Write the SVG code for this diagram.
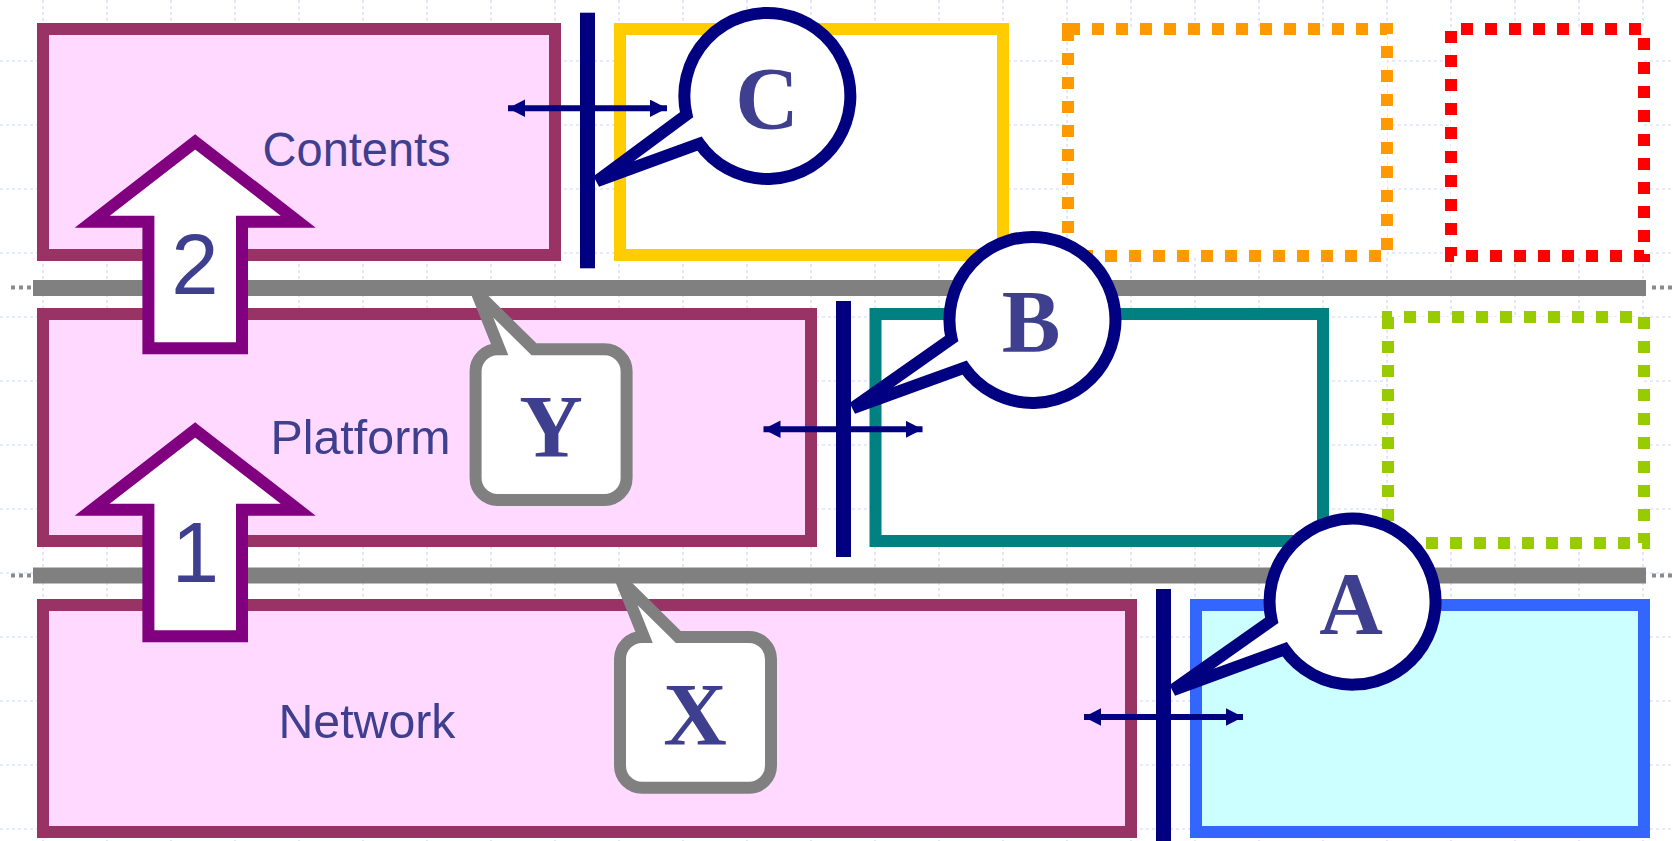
<svg xmlns="http://www.w3.org/2000/svg" width="1673" height="841" viewBox="0 0 1673 841">
  <style>
    .grid line { stroke: #cdd6f6; stroke-width: 1.2; stroke-dasharray: 3 3; }
    .layer { fill: #ffd9ff; stroke: #993366; stroke-width: 12; }
    .peer { fill: #ffffff; stroke-width: 12; }
    .peer.cyan { fill: #ccffff; }
    .dotted { fill: #ffffff; stroke-width: 12; stroke-dasharray: 12 12; }
    .rail { fill: #808080; }
    .railDots { stroke: #8a8a8a; stroke-width: 4; stroke-dasharray: 4 4; }
    .bar { fill: #000080; }
    .link { stroke: #000080; stroke-width: 6; fill: none; marker-start: url(#head); marker-end: url(#head); }
    .bubble { fill: #ffffff; stroke: #000080; stroke-width: 12; }
    .note { fill: #ffffff; stroke: #808080; stroke-width: 12; }
    .step { fill: #ffffff; stroke: #800080; stroke-width: 12; }
    .label { font-family: "Liberation Sans", Arial, sans-serif; font-size: 49px; fill: #3f3f8f; }
    .digit { font-family: "Liberation Sans", Arial, sans-serif; font-size: 85px; fill: #3f3f8f; text-anchor: middle; }
    .tag { font-family: "Liberation Serif", "Times New Roman", serif; font-weight: bold; font-size: 88px; fill: #3f3f8f; text-anchor: middle; }
  </style>
  <defs>
    <marker id="head" markerUnits="userSpaceOnUse" markerWidth="18" markerHeight="18" refX="17" refY="8.7" orient="auto-start-reverse">
      <path d="M0,0 L17,8.7 L0,17.4 Z" fill="#000080"/>
    </marker>
  </defs>

  <rect width="1673" height="841" fill="#ffffff"/>

  <!-- background grid -->
  <g class="grid">
    <line x1="43" y1="0" x2="43" y2="841"/>
    <line x1="107" y1="0" x2="107" y2="841"/>
    <line x1="171" y1="0" x2="171" y2="841"/>
    <line x1="235" y1="0" x2="235" y2="841"/>
    <line x1="299" y1="0" x2="299" y2="841"/>
    <line x1="363" y1="0" x2="363" y2="841"/>
    <line x1="427" y1="0" x2="427" y2="841"/>
    <line x1="491" y1="0" x2="491" y2="841"/>
    <line x1="555" y1="0" x2="555" y2="841"/>
    <line x1="619" y1="0" x2="619" y2="841"/>
    <line x1="683" y1="0" x2="683" y2="841"/>
    <line x1="747" y1="0" x2="747" y2="841"/>
    <line x1="811" y1="0" x2="811" y2="841"/>
    <line x1="875" y1="0" x2="875" y2="841"/>
    <line x1="939" y1="0" x2="939" y2="841"/>
    <line x1="1003" y1="0" x2="1003" y2="841"/>
    <line x1="1067" y1="0" x2="1067" y2="841"/>
    <line x1="1131" y1="0" x2="1131" y2="841"/>
    <line x1="1195" y1="0" x2="1195" y2="841"/>
    <line x1="1259" y1="0" x2="1259" y2="841"/>
    <line x1="1323" y1="0" x2="1323" y2="841"/>
    <line x1="1387" y1="0" x2="1387" y2="841"/>
    <line x1="1451" y1="0" x2="1451" y2="841"/>
    <line x1="1515" y1="0" x2="1515" y2="841"/>
    <line x1="1579" y1="0" x2="1579" y2="841"/>
    <line x1="1643" y1="0" x2="1643" y2="841"/>
    <line x1="0" y1="61" x2="1673" y2="61"/>
    <line x1="0" y1="125" x2="1673" y2="125"/>
    <line x1="0" y1="189" x2="1673" y2="189"/>
    <line x1="0" y1="253" x2="1673" y2="253"/>
    <line x1="0" y1="317" x2="1673" y2="317"/>
    <line x1="0" y1="381" x2="1673" y2="381"/>
    <line x1="0" y1="445" x2="1673" y2="445"/>
    <line x1="0" y1="509" x2="1673" y2="509"/>
    <line x1="0" y1="573" x2="1673" y2="573"/>
    <line x1="0" y1="637" x2="1673" y2="637"/>
    <line x1="0" y1="701" x2="1673" y2="701"/>
    <line x1="0" y1="765" x2="1673" y2="765"/>
    <line x1="0" y1="829" x2="1673" y2="829"/>
  </g>

  <!-- layer boxes -->
  <g id="contents">
    <rect class="layer" x="43" y="29" width="512" height="226"/>
    <text class="label" x="262.6" y="166" textLength="188" lengthAdjust="spacingAndGlyphs">Contents</text>
  </g>
  <g id="platform">
    <rect class="layer" x="43" y="314" width="768" height="227"/>
    <text class="label" x="270.5" y="454" textLength="180" lengthAdjust="spacingAndGlyphs">Platform</text>
  </g>
  <g id="network">
    <rect class="layer" x="43" y="605" width="1088" height="227"/>
    <text class="label" x="278.5" y="738" textLength="177" lengthAdjust="spacingAndGlyphs">Network</text>
  </g>

  <!-- neighbouring boxes -->
  <g id="contents-peer">
    <rect class="peer" stroke="#ffcc00" x="620" y="29" width="383" height="226"/>
  </g>
  <g id="contents-peer-2">
    <rect class="dotted" stroke="#ff9900" x="1068" y="29" width="319" height="227"/>
  </g>
  <g id="contents-peer-3">
    <rect class="dotted" stroke="#ff0000" stroke-dashoffset="14" x="1451" y="29" width="193" height="227"/>
  </g>
  <g id="platform-peer">
    <rect class="peer" stroke="#008080" x="875.5" y="314" width="447.5" height="227"/>
  </g>
  <g id="platform-peer-2">
    <rect class="dotted" stroke="#99cc00" stroke-dashoffset="8" x="1388" y="317" width="256" height="226"/>
  </g>
  <g id="network-peer">
    <rect class="peer cyan" stroke="#3366ff" x="1196" y="605" width="448" height="227"/>
  </g>

  <!-- vertical interface notes X and Y -->
  <g id="note-y">
    <path class="note" d="M534,349.3 L604.6,349.3 A22,22 0 0 1 626.6,371.3 L626.6,478 A22,22 0 0 1 604.6,500 L497.6,500 A22,22 0 0 1 475.6,478 L475.6,371.3 A22,22 0 0 1 497.6,349.3 L499.5,349.3 L477,293 Z"/>
    <text class="tag" x="551" y="455.7">Y</text>
  </g>
  <g id="note-x">
    <path class="note" d="M678.4,637 L749,637 A22,22 0 0 1 771,659 L771,765.7 A22,22 0 0 1 749,787.7 L642,787.7 A22,22 0 0 1 620,765.7 L620,659 A22,22 0 0 1 642,637 L643.9,637 L621.4,580.7 Z"/>
    <text class="tag" x="695" y="743.6">X</text>
  </g>

  <!-- connectors -->
  <g id="connectors">
    <!-- layer boundaries -->
    <line class="railDots" x1="11" y1="287.5" x2="33" y2="287.5"/>
    <line class="railDots" x1="1652" y1="287.5" x2="1673" y2="287.5"/>
    <rect class="rail" x="33" y="280" width="1613" height="16"/>
    <line class="railDots" x1="11" y1="575.5" x2="33" y2="575.5"/>
    <line class="railDots" x1="1652" y1="575.5" x2="1673" y2="575.5"/>
    <rect class="rail" x="33" y="567.5" width="1613" height="16"/>

    <!-- upward steps -->
    <g id="step-2">
      <path class="step" d="M195.2,141.9 L298.2,221.7 L242,221.7 L242,348.3 L148.4,348.3 L148.4,221.7 L92.2,221.7 Z"/>
      <text class="digit" x="195" y="294.3">2</text>
    </g>
    <g id="step-1">
      <path class="step" d="M195.2,429.9 L298.2,509.7 L242,509.7 L242,636.3 L148.4,636.3 L148.4,509.7 L92.2,509.7 Z"/>
      <text class="digit" x="195.5" y="581.7">1</text>
    </g>

    <!-- horizontal interface boundaries -->
    <rect class="bar" x="580" y="12.7" width="15" height="255.6"/>
    <rect class="bar" x="836" y="301" width="15" height="256"/>
    <rect class="bar" x="1156" y="589" width="15" height="260"/>

    <line class="link" x1="508" y1="108.3" x2="667" y2="108.3"/>
    <line class="link" x1="763.5" y1="429.3" x2="922.5" y2="429.3"/>
    <line class="link" x1="1084" y1="717" x2="1243" y2="717"/>
  </g>

  <!-- horizontal interface notes A, B, C -->
  <g id="note-c">
    <path class="bubble" d="M686.5,114.7 L597,181 L699.4,143.6 A83,83 0 1 0 686.5,114.7 Z"/>
    <text class="tag" x="767" y="128">C</text>
  </g>
  <g id="note-b">
    <path class="bubble" d="M951.6,338.7 L853,408 L964.5,367.6 A83,83 0 1 0 951.6,338.7 Z"/>
    <text class="tag" x="1031" y="351">B</text>
  </g>
  <g id="note-a">
    <path class="bubble" d="M1271.7,620.4 L1173,690 L1284.6,649.3 A83,83 0 1 0 1271.7,620.4 Z"/>
    <text class="tag" x="1351" y="633">A</text>
  </g>
</svg>
